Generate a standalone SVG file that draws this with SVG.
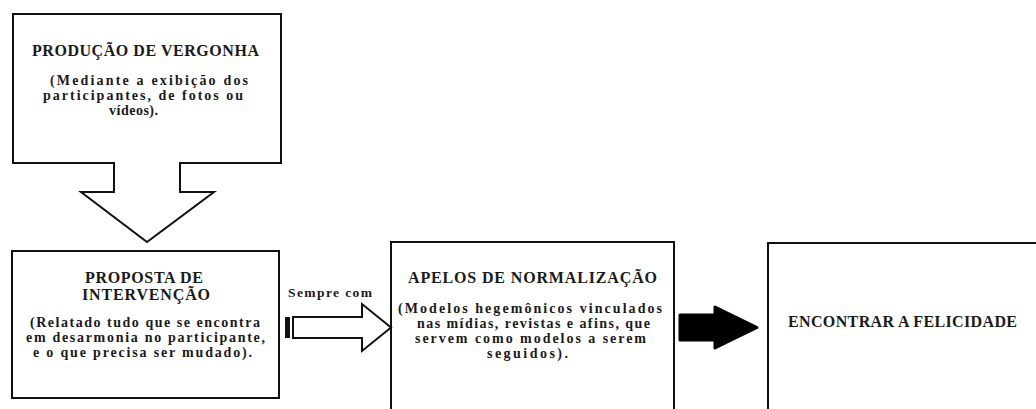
<svg xmlns="http://www.w3.org/2000/svg" width="1036" height="409" viewBox="0 0 1036 409">
<defs>
<style>
.box{fill:#fff;stroke:#111;stroke-width:2}
</style>
</defs>
<rect width="1036" height="409" fill="#fff"/>
<g font-family="Liberation Serif, Times New Roman, serif" font-weight="bold" fill="#1a1a1a">
<g id="node-producao">
<path class="box" d="M13,14 H281 V163 H180 V192 H214 L147,242 L81,192 H114 V163 H13 Z"/>
<text font-size="16" x="32" y="56" textLength="227" lengthAdjust="spacing">PRODUÇÃO DE VERGONHA</text>
<text font-size="14" x="50" y="85" textLength="198" lengthAdjust="spacing">(Mediante a exibição dos</text>
<text font-size="14" x="43" y="100" textLength="200" lengthAdjust="spacing">participantes, de fotos ou</text>
<text font-size="14" x="109" y="115" textLength="49" lengthAdjust="spacing">vídeos).</text>
</g>
<g id="node-proposta">
<rect class="box" x="12" y="251" width="267" height="147"/>
<text font-size="16" x="85" y="283" textLength="118" lengthAdjust="spacing">PROPOSTA DE</text>
<text font-size="16" x="82" y="300" textLength="128" lengthAdjust="spacing">INTERVENÇÃO</text>
<text font-size="14" x="30" y="327" textLength="230" lengthAdjust="spacing">(Relatado tudo que se encontra</text>
<text font-size="14" x="26" y="342" textLength="239" lengthAdjust="spacing">em desarmonia no participante,</text>
<text font-size="14" x="33" y="357" textLength="219" lengthAdjust="spacing">e o que precisa ser mudado).</text>
</g>
<g id="node-apelos">
<rect class="box" x="391" y="242" width="283" height="180"/>
<text font-size="16" x="408" y="283" textLength="249" lengthAdjust="spacing">APELOS DE NORMALIZAÇÃO</text>
<text font-size="14" x="398" y="313" textLength="264" lengthAdjust="spacing">(Modelos hegemônicos vinculados</text>
<text font-size="14" x="417" y="328" textLength="233" lengthAdjust="spacing">nas mídias, revistas e afins, que</text>
<text font-size="14" x="415" y="343" textLength="231" lengthAdjust="spacing">servem como modelos a serem</text>
<text font-size="14" x="487" y="358" textLength="81" lengthAdjust="spacing">seguidos).</text>
</g>
<g id="node-felicidade">
<rect class="box" x="768" y="243" width="280" height="180"/>
<text font-size="16" x="788" y="327" textLength="229" lengthAdjust="spacing">ENCONTRAR A FELICIDADE</text>
</g>
<g id="connectors">
<text font-size="13.5" x="288" y="297" textLength="84" lengthAdjust="spacing">Sempre com</text>
<rect x="285" y="317" width="5" height="21" fill="#111"/>
<path d="M293,317 H362 V304 L391,327.5 L362,351 V338 H293 Z" fill="#fff" stroke="#111" stroke-width="2"/>
<path d="M680,315 H715 V307 L757,327.5 L715,348 V340 H680 Z" fill="#000" stroke="#000" stroke-width="3" stroke-linejoin="round"/>
</g>
</g>
</svg>
